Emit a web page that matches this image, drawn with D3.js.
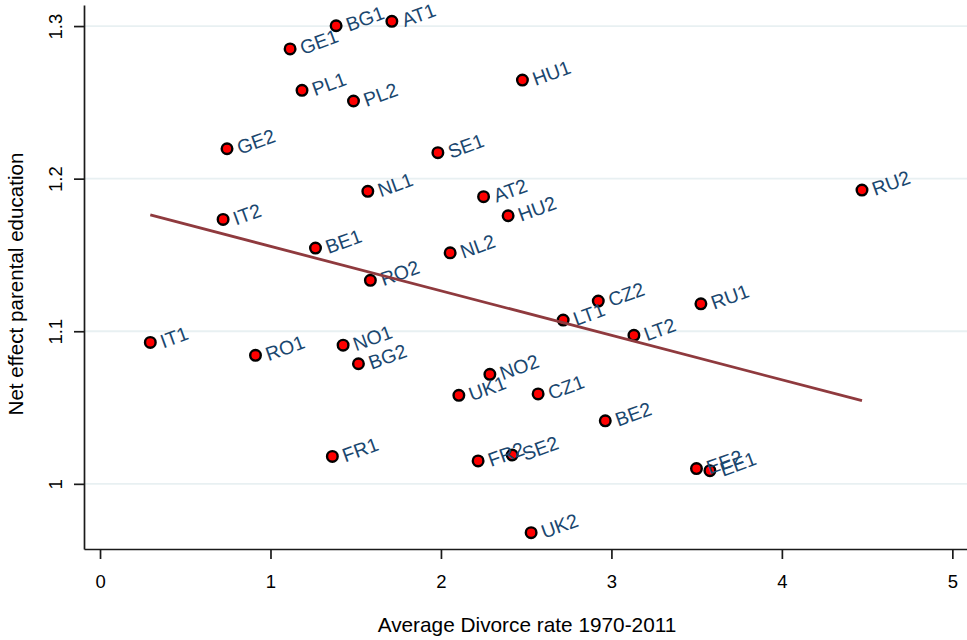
<!DOCTYPE html>
<html>
<head>
<meta charset="utf-8">
<script src="https://cdn.jsdelivr.net/npm/d3@7"></script>
<style>
  html, body { margin: 0; padding: 0; background: #fff; }
  svg { display: block; }
  text { font-family: "Liberation Sans", Arial, Helvetica, sans-serif; }
</style>
</head>
<body>
<svg id="chart" width="967" height="640"></svg>
<script>
const labels = ["GE1","BG1","AT1","PL1","PL2","HU1","GE2","SE1","NL1","AT2","HU2","RU2","IT2","BE1","NL2","RO2","CZ2","RU1","LT1","LT2","IT1","RO1","NO1","BG2","NO2","UK1","CZ1","BE2","FR1","FR2","SE2","EE2","EE1","UK2"];
const divorceRate = [1.115,1.385,1.712,1.185,1.487,2.478,0.745,1.982,1.571,2.250,2.394,4.470,0.722,1.264,2.054,1.586,2.923,3.525,2.717,3.132,0.295,0.912,1.426,1.516,2.287,2.105,2.570,2.964,1.363,2.218,2.418,3.499,3.578,2.529];
const netEffect = [1.2850,1.3002,1.3031,1.2579,1.2509,1.2646,1.2196,1.2170,1.1917,1.1882,1.1757,1.1925,1.1733,1.1545,1.1514,1.1334,1.1198,1.1180,1.1073,1.0973,1.0927,1.0842,1.0909,1.0787,1.0718,1.0580,1.0589,1.0413,1.0180,1.0150,1.0189,1.0100,1.0086,0.9680];
const fitX = [0.295, 4.470];
const fitY = [1.1762, 1.0545];
const xTicks = [0,1,2,3,4,5];
const yTicks = [1.0,1.1,1.2,1.3];
const xTitle = "Average Divorce rate 1970-2011";
const yTitle = "Net effect parental education";

const svg = d3.select("#chart");
const mLeft = 84, mRight = 967, mTop = 5, mBottom = 549;
const x = d3.scaleLinear().domain([-0.094, 5.086]).range([mLeft, mRight]);
const y = d3.scaleLinear().domain([0.9573, 1.3138]).range([mBottom, mTop]);

// grid
svg.append("g").selectAll("line").data(yTicks).join("line")
  .attr("x1", mLeft).attr("x2", mRight)
  .attr("y1", d => y(d)).attr("y2", d => y(d))
  .attr("stroke", "#e8f0f2").attr("stroke-width", 1.8);

// axes
const xAxis = svg.append("g").attr("transform", `translate(0,${mBottom})`)
  .call(d3.axisBottom(x).tickValues(xTicks).tickFormat(d3.format("d")).tickSize(10).tickSizeOuter(0).tickPadding(16));
const yAxis = svg.append("g").attr("transform", `translate(${mLeft},0)`)
  .call(d3.axisLeft(y).tickValues(yTicks).tickFormat(d => d === 1 ? "1" : d3.format(".1f")(d)).tickSize(10).tickSizeOuter(0));
[xAxis, yAxis].forEach(a => {
  a.select(".domain").attr("stroke", "#1a1a1a").attr("stroke-width", 1.7);
  a.selectAll(".tick line").attr("stroke", "#1a1a1a").attr("stroke-width", 1.7);
  a.selectAll("text").attr("fill", "#000").style("font-size", "18.5px");
});
yAxis.selectAll(".tick text")
  .attr("x", null).attr("dy", null).attr("y", 0)
  .attr("text-anchor", "middle")
  .attr("transform", "translate(-22,0) rotate(-90)");
xAxis.selectAll(".tick text").attr("dy", "0.71em");

// titles
svg.append("text").attr("x", 527).attr("y", 632)
  .attr("text-anchor", "middle").style("font-size", "20.8px").attr("fill", "#000").text(xTitle);
svg.append("text").attr("transform", `translate(23,284) rotate(-90)`)
  .attr("text-anchor", "middle").style("font-size", "20.6px").attr("fill", "#000").text(yTitle);

const data = labels.map((l, i) => ({ l, x: divorceRate[i], y: netEffect[i] }));

// markers
svg.append("g").selectAll("circle").data(data).join("circle")
  .attr("cx", d => x(d.x)).attr("cy", d => y(d.y)).attr("r", 5.3)
  .attr("fill", "#ff0000").attr("stroke", "#000").attr("stroke-width", 2.4);

// labels
svg.append("g").selectAll("text").data(data).join("text")
  .attr("transform", d => `translate(${x(d.x) + 13},${y(d.y) + 6}) rotate(-20)`)
  .attr("fill", "#1a476f").style("font-size", "19.5px").text(d => d.l);

// fit line
svg.append("line")
  .attr("x1", x(fitX[0])).attr("y1", y(fitY[0]))
  .attr("x2", x(fitX[1])).attr("y2", y(fitY[1]))
  .attr("stroke", "#8f3a3e").attr("stroke-width", 2.8);
</script>
</body>
</html>
